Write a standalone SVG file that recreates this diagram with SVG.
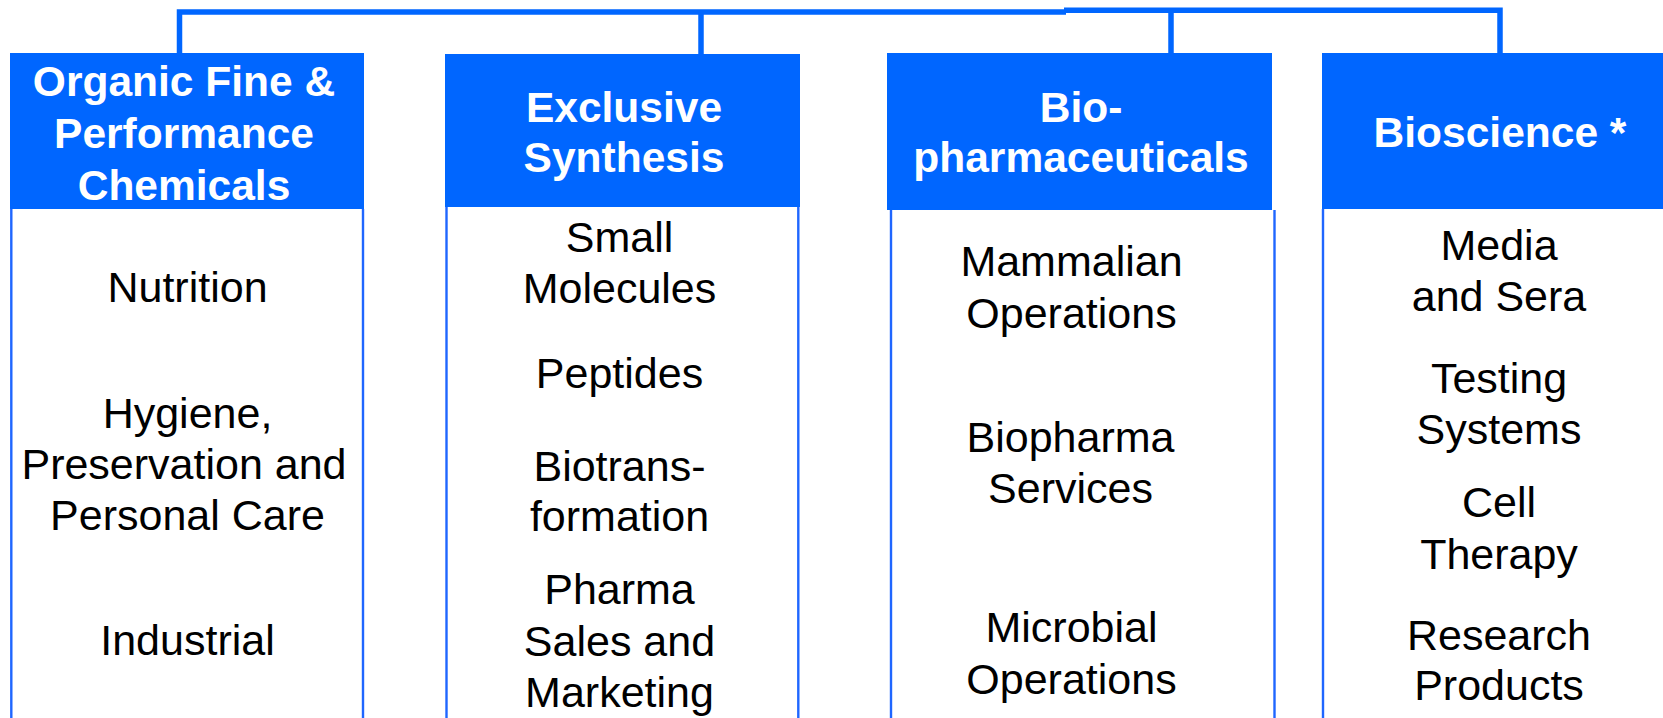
<svg xmlns="http://www.w3.org/2000/svg" width="1663" height="718" viewBox="0 0 1663 718">
<style>
.hdr{fill:#0066ff}
.bd{stroke:#1f66ff;stroke-width:2.4;fill:none}
.conn{stroke:#0066ff;stroke-width:5.5;fill:none}
.ht{font-family:"Liberation Sans",Arial,sans-serif;font-weight:bold;font-size:42.5px;fill:#ffffff;text-anchor:middle}
.bt{font-family:"Liberation Sans",Arial,sans-serif;font-size:43px;fill:#000000;text-anchor:middle}
</style>
<rect width="1663" height="718" fill="#ffffff"/>
<g id="connectors">
<path class="conn" d="M179.5,53 V12 H1066"/>
<path class="conn" d="M1064,10.3 H1500 V53"/>
<path class="conn" d="M701,12 V54"/>
<path class="conn" d="M1171,12 V53"/>
</g>
<g id="col-organic">
<rect class="hdr" x="10" y="53" width="354" height="156"/>
<line class="bd" x1="11.3" y1="209" x2="11.3" y2="718"/>
<line class="bd" x1="363" y1="209" x2="363" y2="718"/>
<text class="ht" x="184" y="96">Organic Fine &amp;</text>
<text class="ht" x="184" y="148">Performance</text>
<text class="ht" x="184" y="200">Chemicals</text>
<text class="bt" x="187.5" y="302">Nutrition</text>
<text class="bt" x="187.5" y="428">Hygiene,</text>
<text class="bt" x="184" y="479">Preservation and</text>
<text class="bt" x="187.5" y="530">Personal Care</text>
<text class="bt" x="187.5" y="655">Industrial</text>
</g>
<g id="col-exclusive">
<rect class="hdr" x="445" y="54" width="355" height="153"/>
<line class="bd" x1="446.5" y1="207" x2="446.5" y2="718"/>
<line class="bd" x1="798.3" y1="207" x2="798.3" y2="718"/>
<text class="ht" x="624" y="122">Exclusive</text>
<text class="ht" x="624" y="172">Synthesis</text>
<text class="bt" x="619.5" y="252">Small</text>
<text class="bt" x="619.5" y="303">Molecules</text>
<text class="bt" x="619.5" y="388">Peptides</text>
<text class="bt" x="619.5" y="481">Biotrans-</text>
<text class="bt" x="619.5" y="531">formation</text>
<text class="bt" x="619.5" y="604">Pharma</text>
<text class="bt" x="619.5" y="656">Sales and</text>
<text class="bt" x="619.5" y="707">Marketing</text>
</g>
<g id="col-biopharma">
<rect class="hdr" x="887" y="53" width="385" height="157"/>
<line class="bd" x1="891" y1="210" x2="891" y2="718"/>
<line class="bd" x1="1274.5" y1="210" x2="1274.5" y2="718"/>
<text class="ht" x="1081" y="122">Bio-</text>
<text class="ht" x="1081" y="172">pharmaceuticals</text>
<text class="bt" x="1071.5" y="276">Mammalian</text>
<text class="bt" x="1071.5" y="328">Operations</text>
<text class="bt" x="1070.5" y="452">Biopharma</text>
<text class="bt" x="1070.5" y="503">Services</text>
<text class="bt" x="1071.5" y="642">Microbial</text>
<text class="bt" x="1071.5" y="694">Operations</text>
</g>
<g id="col-bioscience">
<rect class="hdr" x="1322" y="53" width="341" height="156"/>
<line class="bd" x1="1323" y1="209" x2="1323" y2="718"/>
<text class="ht" x="1500" y="147">Bioscience *</text>
<text class="bt" x="1499" y="260">Media</text>
<text class="bt" x="1499" y="311">and Sera</text>
<text class="bt" x="1499" y="393">Testing</text>
<text class="bt" x="1499" y="444">Systems</text>
<text class="bt" x="1499" y="517">Cell</text>
<text class="bt" x="1499" y="569">Therapy</text>
<text class="bt" x="1499" y="650">Research</text>
<text class="bt" x="1499" y="700">Products</text>
</g>
</svg>
